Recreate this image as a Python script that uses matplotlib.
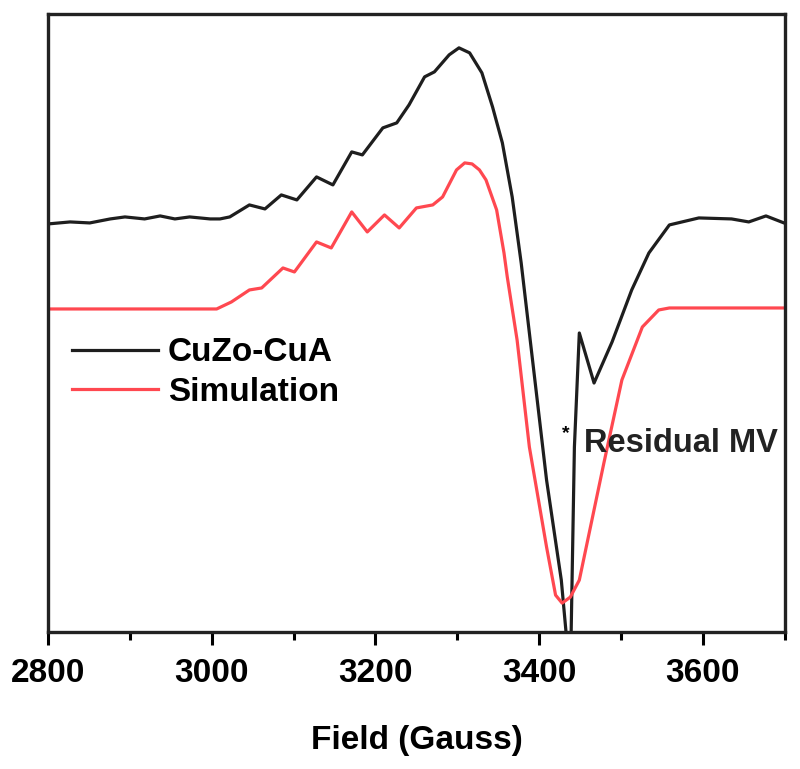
import matplotlib.pyplot as plt
import matplotlib.ticker as tck

plt.rcParams['font.family'] = ['Liberation Sans', 'DejaVu Sans']
plt.rcParams['font.weight'] = 'bold'

# measured spectrum (field in Gauss, intensity in arbitrary units)
exp_field = [2800, 2827, 2851, 2876, 2894, 2918, 2937, 2955, 2973, 2998,
             3010, 3022, 3046, 3065, 3085, 3104, 3128, 3148, 3171, 3184,
             3209, 3226, 3241, 3260, 3272, 3290, 3302, 3315, 3330, 3343,
             3355, 3367, 3378, 3409, 3427, 3433, 3439, 3443, 3449, 3467,
             3489, 3513, 3534, 3559, 3595, 3635, 3656, 3677, 3699]
exp_int = [408, 410, 409, 413, 415, 413, 416, 413, 415, 413,
           413, 415, 427, 423, 437, 432, 455, 447, 480, 477,
           504, 509, 527, 555, 560, 577, 584, 579, 559, 525,
           489, 435, 369, 152, 52, -2, -2, 185, 299, 249,
           290, 342, 379, 407, 414, 413, 410, 416, 409]

# simulated spectrum
sim_field = [2800, 3006, 3024, 3046, 3061, 3087, 3101, 3128, 3146, 3171,
             3190, 3211, 3229, 3250, 3270, 3282, 3299, 3309, 3318, 3327,
             3335, 3348, 3357, 3361, 3373, 3388, 3409, 3420, 3428, 3438,
             3449, 3479, 3501, 3526, 3546, 3559, 3699]
sim_int = [323, 323, 330, 342, 344, 364, 360, 390, 384, 420,
           400, 417, 404, 424, 427, 435, 462, 469, 468, 462,
           452, 422, 379, 355, 292, 185, 85, 37, 29, 35,
           52, 169, 252, 305, 322, 324, 324]

fig = plt.figure(figsize=(8, 7.69), dpi=100)
ax = fig.add_axes([0.06, 0.178, 0.921, 0.804])

ax.plot(exp_field, exp_int, color='#1e1e1e', lw=2.3, label='CuZo-CuA')
ax.plot(sim_field, sim_int, color='#ff4850', lw=2.3, label='Simulation')

ax.set_xlim(2800, 3700)
ax.set_ylim(0, 618)
ax.set_yticks([])
ax.xaxis.set_major_locator(tck.MultipleLocator(200))
ax.xaxis.set_minor_locator(tck.MultipleLocator(100))
ax.tick_params(axis='x', which='major', direction='out', length=9, width=2.2,
               labelsize=24, pad=9.5, top=False)
ax.tick_params(axis='x', which='minor', direction='out', length=6, width=2.2,
               top=False)
for s in ax.spines.values():
    s.set_linewidth(2.4)
    s.set_color('#222222')

ax.set_xlabel('Field (Gauss)', fontsize=24, fontweight='bold', labelpad=26)

ax.text(3432, 198, '*', fontsize=14, fontweight='bold', ha='center', va='center')
ax.text(3455, 189, 'Residual MV', fontsize=23.5, fontweight='bold', va='center',
        color='#222222')

ax.legend(loc='center left', bbox_to_anchor=(0.0325, 0.42), frameon=False,
          borderpad=0, borderaxespad=0, handlelength=2.58, handletextpad=0.3,
          labelspacing=0.25, prop={'weight': 'bold', 'size': 24})

fig.savefig('out.png', dpi=100)
